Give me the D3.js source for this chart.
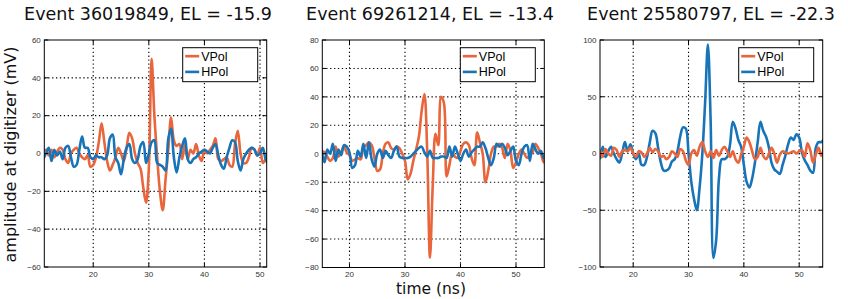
<!DOCTYPE html>
<html><head><meta charset="utf-8">
<script src="https://cdn.jsdelivr.net/npm/d3@7"></script>
<style>body{margin:0;background:#fff}svg{display:block}</style>
</head><body>
<script>
// ---------------- data ----------------
const titles = ["Event 36019849, EL = -15.9", "Event 69261214, EL = -13.4", "Event 25580797, EL = -22.3"];
const seriesNames = ["VPol", "HPol"];
const xTicks = [20, 30, 40, 50];
const yTicks1 = [-60, -40, -20, 0, 20, 40, 60];
const yTicks2 = [-80, -60, -40, -20, 0, 20, 40, 60, 80];
const yTicks3 = [-100, -50, 0, 50, 100];

const time1 = [11,11.5,12,12.5,13,13.5,14,14.5,15,15.5,16,16.5,17,17.5,18,18.5,19,19.5,20,20.5,21,21.5,22,22.5,23,23.5,24,24.5,25,25.5,26,26.5,27,27.5,28,28.5,29,29.5,30,30.5,31,31.5,32,32.5,33,33.5,34,34.5,35,35.5,36,36.5,37,37.5,38,38.5,39,39.5,40,40.5,41,41.5,42,42.5,43,43.5,44,44.5,45,45.5,46,46.5,47,47.5,48,48.5,49,49.5,50,50.5,51,51.5];
const vpol1 = [1,2,-1,2,-2,1,3,2,-3,-5,
  0,2,3,0,-2,-3,-1,-7,-6,-2,
  6,16,6,-4,-9,-6,-2,3,0,-4,
  3,11,8,0,-5,-8,-18,-26,-8,50,
  20,-2,-20,-30,-14,2,19,7,4,5,
  -3,5,-3,2,0,5,-1,-4,2,0,
  2,4,8,-3,-4,-3,-2,-6,-7,5,
  12,0,-5,-5,-2,3,2,-1,3,-5,
  -3,0];
const hpol1 = [-3,0,3,-4,2,-1,1,-3,3,4,
  -2,-7,-6,2,9,3,3,-2,-3,-1,
  -2,-2,-3,-1,8,10,-2,-5,-11,-3,
  3,5,-3,-5,-3,4,6,-5,0,6,
  7,-5,-6,-7,-9,8,13,-2,-10,-2,
  4,8,-3,-5,-3,-2,0,1,2,1,
  0,3,5,-1,-6,-8,-2,3,7,6,
  -4,-9,-3,0,2,3,2,-1,0,3,
  -3,-6];

const time2 = [15,15.5,16,16.5,17,17.5,18,18.5,19,19.5,20,20.5,21,21.5,22,22.5,23,23.5,24,24.5,25,25.5,26,26.5,27,27.5,28,28.5,29,29.5,30,30.5,31,31.5,32,32.5,33,33.5,34,34.5,35,35.5,36,36.5,37,37.5,38,38.5,39,39.5,40,40.5,41,41.5,42,42.5,43,43.5,44,44.5,45,45.5,46,46.5,47,47.5,48,48.5,49,49.5,50,50.5,51,51.5,52,52.5,53,53.5,54,54.5,55,55.5];
const vpol2 = [2,1,-2,-5,-3,5,-2,1,5,1,
  -1,-5,-4,-3,-4,4,6,8,6,-3,
  -12,-11,0,7,8,4,3,5,4,0,
  -5,-18,-14,-5,3,12,30,42,2,-73,
  -22,14,6,40,36,-16,-8,0,-2,-3,
  2,7,8,6,-3,-8,15,8,0,-20,
  -12,0,5,5,7,4,-3,7,2,-10,
  -6,0,3,0,-3,-1,1,7,4,0,
  -6,-7];
const hpol2 = [2,-6,3,0,7,-5,3,-1,6,5,
  1,-10,-8,2,-2,7,-3,8,-4,-9,
  0,3,-3,2,-1,-3,2,5,-2,-3,
  -3,-3,-2,0,2,4,5,1,-2,2,
  -3,-3,-3,-2,-2,-3,5,-2,5,0,
  -5,0,3,-2,1,3,5,5,8,4,
  -3,-8,-3,7,5,7,4,-1,2,5,
  -5,-8,0,5,6,-5,7,3,0,2,
  -3,-2];

const time3 = [14,14.5,15,15.5,16,16.5,17,17.5,18,18.5,19,19.5,20,20.5,21,21.5,22,22.5,23,23.5,24,24.5,25,25.5,26,26.5,27,27.5,28,28.5,29,29.5,30,30.5,31,31.5,32,32.5,33,33.5,34,34.5,35,35.5,36,36.5,37,37.5,38,38.5,39,39.5,40,40.5,41,41.5,42,42.5,43,43.5,44,44.5,45,45.5,46,46.5,47,47.5,48,48.5,49,49.5,50,50.5,51,51.5,52,52.5,53,53.5,54,54.5];
const vpol3 = [3,-3,4,0,-2,5,3,-3,2,3,
  2,5,0,-3,2,1,-3,0,5,1,
  4,2,-3,-2,-5,-3,2,0,-3,4,
  2,-6,-10,0,3,-2,6,10,2,-3,
  2,-4,3,-2,3,6,2,-3,2,-5,
  -8,-1,6,14,10,2,-5,-3,5,-2,
  -5,-1,5,0,-8,-1,2,1,0,1,
  2,0,2,3,-3,9,3,-8,-1,5,
  -2,5];
const hpol3 = [-5,6,-3,2,6,0,-5,-8,0,10,
  2,8,0,-5,0,-10,-10,-3,10,20,
  18,5,-8,-15,-15,-13,-7,-5,2,15,
  23,22,0,-25,-40,-50,-30,0,45,96,
  28,-92,-76,-22,-5,-5,-3,8,28,22,
  12,6,-10,-25,-30,-22,-8,10,28,20,
  15,6,-8,-14,-16,-18,-10,-2,8,14,
  12,17,14,1,-6,-10,-15,-17,5,10,
  10,13];

// ---------------- layout ----------------
const W = 848, H = 299;
const colors = {VPol: "#E9653B", HPol: "#1874B9"};
const panels = [
  {title: titles[0], t: time1, v: vpol1, h: hpol1, x0: 44.3, x1: 266.7, y0: 40, y1: 267, xd: [11.2, 51.2], yd: [-60, 60], yt: yTicks1, tx: 148, hTop: true},
  {title: titles[1], t: time2, v: vpol2, h: hpol2, x0: 322.3, x1: 544.3, y0: 40, y1: 267.5, xd: [15.1, 55.1], yd: [-80, 80], yt: yTicks2, tx: 430, hTop: true},
  {title: titles[2], t: time3, v: vpol3, h: hpol3, x0: 600, x1: 822.7, y0: 40, y1: 267, xd: [14, 54.25], yd: [-100, 100], yt: yTicks3, tx: 711, hTop: false}
];

const svg = d3.select("body").append("svg").attr("width", W).attr("height", H);
svg.append("rect").attr("width", W).attr("height", H).attr("fill", "#fff");
const fmt = v => v < 0 ? "\u2212" + (-v) : String(v);

panels.forEach((p, i) => {
  const x = d3.scaleLinear().domain(p.xd).range([p.x0, p.x1]);
  const y = d3.scaleLinear().domain(p.yd).range([p.y1, p.y0]);
  const g = svg.append("g");

  svg.append("text").attr("x", p.tx).attr("y", 20).attr("text-anchor", "middle")
    .attr("font-family", "DejaVu Sans").attr("font-size", 17.5).attr("fill", "#111").text(p.title);

  const grid = g.append("g").attr("stroke", "#000").attr("stroke-width", 1.1).attr("stroke-dasharray", "1.3,2.6");
  xTicks.forEach(t => grid.append("line").attr("x1", x(t)).attr("x2", x(t)).attr("y1", p.y0).attr("y2", p.y1));
  p.yt.filter(t => t > p.yd[0] && t < p.yd[1]).forEach(t =>
    grid.append("line").attr("x1", p.x0).attr("x2", p.x1).attr("y1", y(t)).attr("y2", y(t)));

  const clipId = "clip" + i;
  svg.append("defs").append("clipPath").attr("id", clipId).append("rect")
    .attr("x", p.x0).attr("y", p.y0).attr("width", p.x1 - p.x0).attr("height", p.y1 - p.y0);
  const line = d3.line().x(d => x(d[0])).y(d => y(d[1])).curve(d3.curveCatmullRom.alpha(0.5));
  const vData = p.t.map((t, k) => [t, p.v[k]]).filter(d => d[1] !== undefined);
  const hData = p.t.map((t, k) => [t, p.h[k]]).filter(d => d[1] !== undefined);
  const order = p.hTop ? [["VPol", vData], ["HPol", hData]] : [["HPol", hData], ["VPol", vData]];
  const dg = g.append("g").attr("clip-path", `url(#${clipId})`);
  order.forEach(([name, data]) => {
    dg.append("path").datum(data).attr("d", line).attr("fill", "none")
      .attr("stroke", colors[name]).attr("stroke-width", 2.6).attr("stroke-linejoin", "round");
  });

  g.append("rect").attr("x", p.x0).attr("y", p.y0).attr("width", p.x1 - p.x0).attr("height", p.y1 - p.y0)
    .attr("fill", "none").attr("stroke", "#000").attr("stroke-width", 1);
  const tk = g.append("g").attr("stroke", "#000").attr("stroke-width", 1);
  const tl = 4;
  xTicks.forEach(t => {
    tk.append("line").attr("x1", x(t)).attr("x2", x(t)).attr("y1", p.y1).attr("y2", p.y1 - tl);
    tk.append("line").attr("x1", x(t)).attr("x2", x(t)).attr("y1", p.y0).attr("y2", p.y0 + tl);
  });
  p.yt.forEach(t => {
    tk.append("line").attr("x1", p.x0).attr("x2", p.x0 + tl).attr("y1", y(t)).attr("y2", y(t));
    tk.append("line").attr("x1", p.x1).attr("x2", p.x1 - tl).attr("y1", y(t)).attr("y2", y(t));
  });

  const lab = g.append("g").attr("font-family", "Liberation Sans, Arial, sans-serif").attr("font-size", 8).attr("fill", "#333");
  xTicks.forEach(t => lab.append("text").attr("x", x(t)).attr("y", 276.5).attr("text-anchor", "middle").text(fmt(t)));
  p.yt.forEach(t => lab.append("text").attr("x", p.x0 - 3.5).attr("y", y(t)).attr("dy", "0.35em").attr("text-anchor", "end").text(fmt(t)));

  const lx = p.x1 - 84, ly = 47.7;
  const lg = g.append("g");
  lg.append("rect").attr("x", lx).attr("y", ly).attr("width", 75).attr("height", 34)
    .attr("fill", "#fff").attr("stroke", "#000").attr("stroke-width", 1);
  seriesNames.forEach((name, k) => {
    const cy = ly + 8.5 + k * 15.7;
    lg.append("line").attr("x1", lx + 2.5).attr("x2", lx + 16.5).attr("y1", cy).attr("y2", cy)
      .attr("stroke", colors[name]).attr("stroke-width", 2.6);
    lg.append("text").attr("x", lx + 18.5).attr("y", cy + 4.5).attr("font-family", "Liberation Sans, Arial, sans-serif")
      .attr("font-size", 12.5).attr("fill", "#000").text(name);
  });
});

svg.append("text").attr("transform", "translate(16,154.5) rotate(-90)").attr("text-anchor", "middle")
  .attr("font-family", "DejaVu Sans").attr("font-size", 16).attr("fill", "#111").text("amplitude at digitizer (mV)");
svg.append("text").attr("x", 431).attr("y", 294).attr("text-anchor", "middle")
  .attr("font-family", "DejaVu Sans").attr("font-size", 15.5).attr("fill", "#111").text("time (ns)");
</script>
</body></html>
